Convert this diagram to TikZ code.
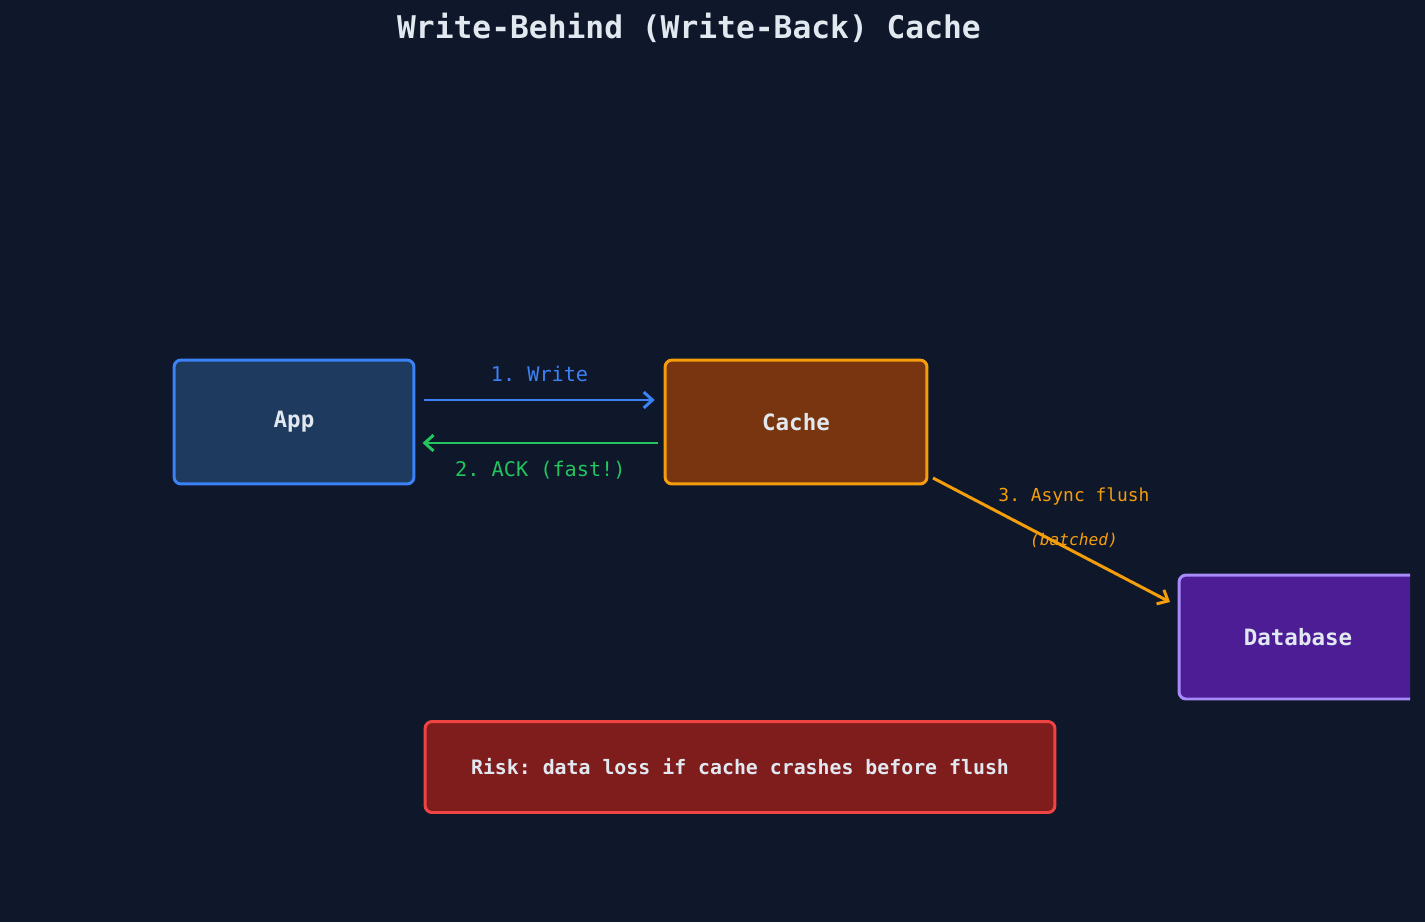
\documentclass[tikz,border=0pt]{standalone}
\usepackage{fontspec}
\setmonofont{DejaVu Sans Mono}
\usetikzlibrary{arrows.meta}
\definecolor{bgc}{HTML}{0F172A}
\definecolor{txt}{HTML}{E2E8F0}
\definecolor{appfill}{HTML}{1E3A5F}
\definecolor{appline}{HTML}{3B82F6}
\definecolor{cachefill}{HTML}{78350F}
\definecolor{cacheline}{HTML}{F59E0B}
\definecolor{dbfill}{HTML}{4C1D95}
\definecolor{dbline}{HTML}{A78BFA}
\definecolor{riskfill}{HTML}{7F1D1D}
\definecolor{riskline}{HTML}{EF4444}
\definecolor{ackc}{HTML}{22C55E}
\tikzset{
  box/.style={draw, line width=1.7pt, rounded corners=4pt, text=txt,
    font=\ttfamily\bfseries\fontsize{12.8}{14}\selectfont},
  flow/.style={line width=1.7pt, -{Straight Barb[length=5pt,width=9pt]}},
  lbl/.style={font=\ttfamily\fontsize{11.5}{13}\selectfont}
}
\begin{document}
\begin{tikzpicture}[x=0.02cm,y=-0.02cm]
  \fill[bgc] (0,0) rectangle (1425,922);
  \useasboundingbox (0,0) rectangle (1425,922);

  % title
  \node[text=txt, font=\ttfamily\bfseries\fontsize{17.8}{20}\selectfont] (title) at (689,28) {Write-Behind (Write-Back) Cache};

  % boxes
  \node[box, fill=appfill, draw=appline, minimum width=240\pgflinewidth/1.7*0.02cm/0.02cm, minimum width=4.8cm, minimum height=2.48cm] (app) at (294,422) {App};
  \node[box, fill=cachefill, draw=cacheline, minimum width=5.24cm, minimum height=2.48cm] (cache) at (796,422) {Cache};
  \begin{scope}
    \clip (0,0) rectangle (1410,922);
    \node[box, fill=dbfill, draw=dbline, minimum width=4.76cm, minimum height=2.48cm] (db) at (1298,637) {Database};
  \end{scope}
  \node[box, fill=riskfill, draw=riskline, minimum width=12.6cm, minimum height=1.82cm,
    font=\ttfamily\bfseries\fontsize{11.3}{13}\selectfont] (risk) at (740,767) {Risk: data loss if cache crashes before flush};

  % connectors
  \draw[flow, appline] ([xshift=5pt]app.east |- 0,400) -- ([xshift=-5pt]cache.west |- 0,400)
    node[midway, above=6pt, lbl, text=appline] {1. Write};
  \draw[flow, ackc] ([xshift=-3pt]cache.west |- 0,443) -- ([xshift=4pt]app.east |- 0,443)
    node[midway, below=6pt, lbl, text=ackc] {2. ACK (fast!)};
  \coordinate (fl0) at (933,478);
  \coordinate (fl1) at (1170,602);
  \draw[flow, cacheline] (fl0) -- (fl1);
  \node[lbl, text=cacheline, font=\ttfamily\fontsize{10.2}{12}\selectfont] (fl-a) at (1074,497) {3. Async flush};
  \node[lbl, text=cacheline, font=\ttfamily\itshape\fontsize{9.2}{11}\selectfont] (fl-b) at (1074,540) {(batched)};
\end{tikzpicture}
\end{document}
